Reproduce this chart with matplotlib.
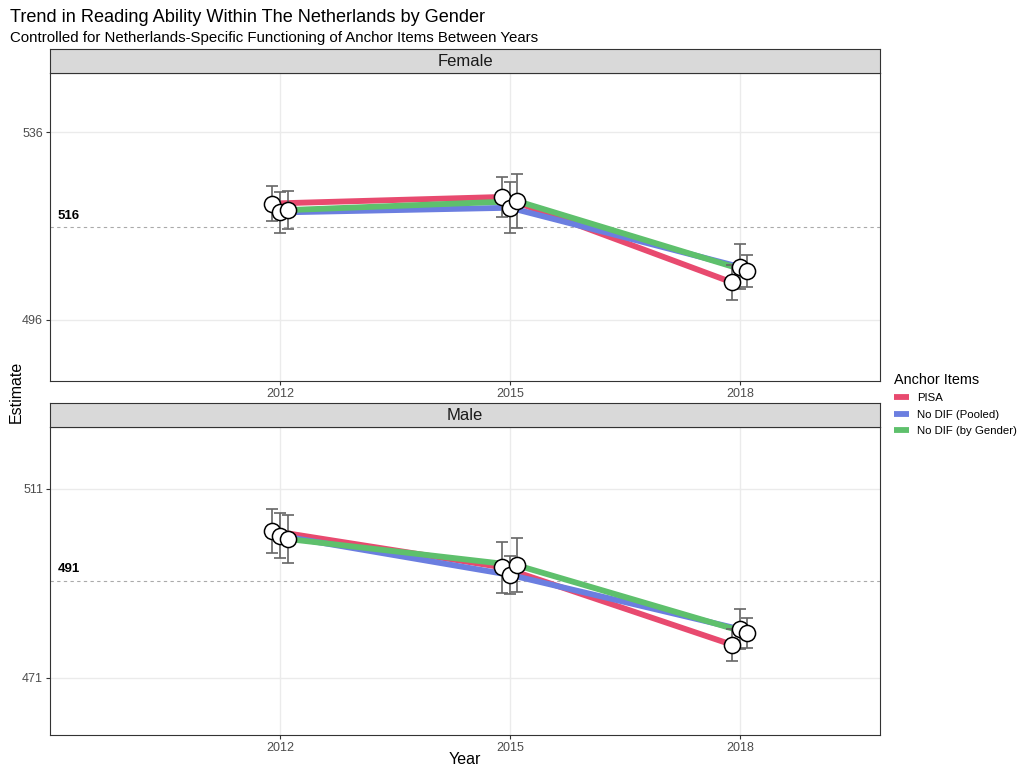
import numpy as np
import matplotlib
matplotlib.use("Agg")
import matplotlib.pyplot as plt

plt.rcParams["font.family"] = ["Liberation Sans", "DejaVu Sans"]

years = [2012, 2015, 2018]
series = ["PISA", "No DIF (Pooled)", "No DIF (by Gender)"]
colors = ["#E84A6F", "#6B7EE0", "#5EC06C"]
dodge = [-0.1, 0.0, 0.1]

# estimates and half-width of error bars, per gender and anchor set
female_est = {
    "PISA": [520.8, 522.2, 504.0],
    "No DIF (Pooled)": [518.9, 519.9, 507.3],
    "No DIF (by Gender)": [519.4, 521.3, 506.4],
}
female_err = {
    "PISA": [3.8, 4.3, 3.8],
    "No DIF (Pooled)": [4.3, 5.4, 4.8],
    "No DIF (by Gender)": [4.1, 5.7, 3.4],
}
male_est = {
    "PISA": [502.1, 494.4, 478.0],
    "No DIF (Pooled)": [501.1, 492.8, 481.3],
    "No DIF (by Gender)": [500.4, 494.8, 480.5],
}
male_err = {
    "PISA": [4.7, 5.4, 3.4],
    "No DIF (Pooled)": [4.8, 4.0, 4.2],
    "No DIF (by Gender)": [5.1, 5.7, 3.1],
}
female_mean, male_mean = 515.7, 491.4
female_ticks = [496, 536]
male_ticks = [471, 511]

W, H = 1019, 767
fig = plt.figure(figsize=(W / 100, H / 100), dpi=100)

def fx(px): return px / W
def fy(py): return 1 - py / H

left, right = 50, 880

def panel(top_strip, strip_bot, bot, label, est, err, mean, ticks, ylim):
    ax = fig.add_axes([fx(left), fy(bot), fx(right - left), fy(strip_bot) - fy(bot)])
    sax = fig.add_axes([fx(left), fy(strip_bot), fx(right - left), fy(top_strip) - fy(strip_bot)])
    sax.set_xticks([]); sax.set_yticks([])
    sax.set_facecolor("#D9D9D9")
    for s in sax.spines.values():
        s.set_color("#333333"); s.set_linewidth(0.8)
    sax.text(0.5, 0.5, label, ha="center", va="center", fontsize=12, color="#1A1A1A",
             transform=sax.transAxes)

    ax.set_xlim(2009, 2019.83)
    ax.set_ylim(*ylim)
    ax.set_xticks(years)
    ax.set_yticks(ticks)
    ax.grid(True, which="major", color="#EBEBEB", lw=1.0)
    ax.set_axisbelow(True)
    ax.tick_params(which="major", length=3, color="#333333", labelsize=9, labelcolor="#4D4D4D", pad=2)
    for s in ax.spines.values():
        s.set_color("#333333"); s.set_linewidth(0.8)

    ax.axhline(mean, color="#AAAAAA", ls=(0, (3, 3)), lw=0.8, zorder=1)
    ax.text(2009.1, mean + 1.9, f"{mean:.0f}", fontsize=9.5, fontweight="bold", color="black")

    for name, c, d in zip(series, colors, dodge):
        x = np.array(years) + d
        ax.plot(x, est[name], color=c, lw=4.2, solid_capstyle="butt", zorder=2, label=name)
    for name, d in zip(series, dodge):
        x = np.array(years) + d
        ax.errorbar(x, est[name], yerr=err[name], fmt="none", ecolor="#666666",
                    elinewidth=1.2, capsize=4, capthick=1.2, zorder=3)
    for name, d in zip(series, dodge):
        x = np.array(years) + d
        ax.scatter(x, est[name], s=135, facecolor="white", edgecolor="black", lw=1.1, zorder=4)
    return ax

ax1 = panel(49, 73, 381, "Female", female_est, female_err, female_mean, female_ticks, (483.0, 548.6))
ax2 = panel(403, 427, 735, "Male", male_est, male_err, male_mean, male_ticks, (458.9, 524.1))

fig.text(fx(10), fy(18), "Trend in Reading Ability Within The Netherlands by Gender",
         fontsize=13.1, va="center", ha="left", color="black")
fig.text(fx(10), fy(38), "Controlled for Netherlands-Specific Functioning of Anchor Items Between Years",
         fontsize=10.8, va="center", ha="left", color="black")
fig.text(fx(465), fy(759), "Year", fontsize=11.5, ha="center", va="center")
fig.text(fx(16), fy(392), "Estimate", fontsize=11.5, ha="center", va="center", rotation=90)

handles, labels = ax1.get_legend_handles_labels()
leg = fig.legend(handles, labels, title="Anchor Items", loc="upper left",
                 bbox_to_anchor=(fx(885), fy(364)), frameon=False, fontsize=8.2,
                 title_fontsize=10.4, handlelength=1.3, handletextpad=0.75, labelspacing=0.55,
                 borderpad=0.3)
leg._legend_box.align = "left"

fig.savefig("out.png", dpi=100)
